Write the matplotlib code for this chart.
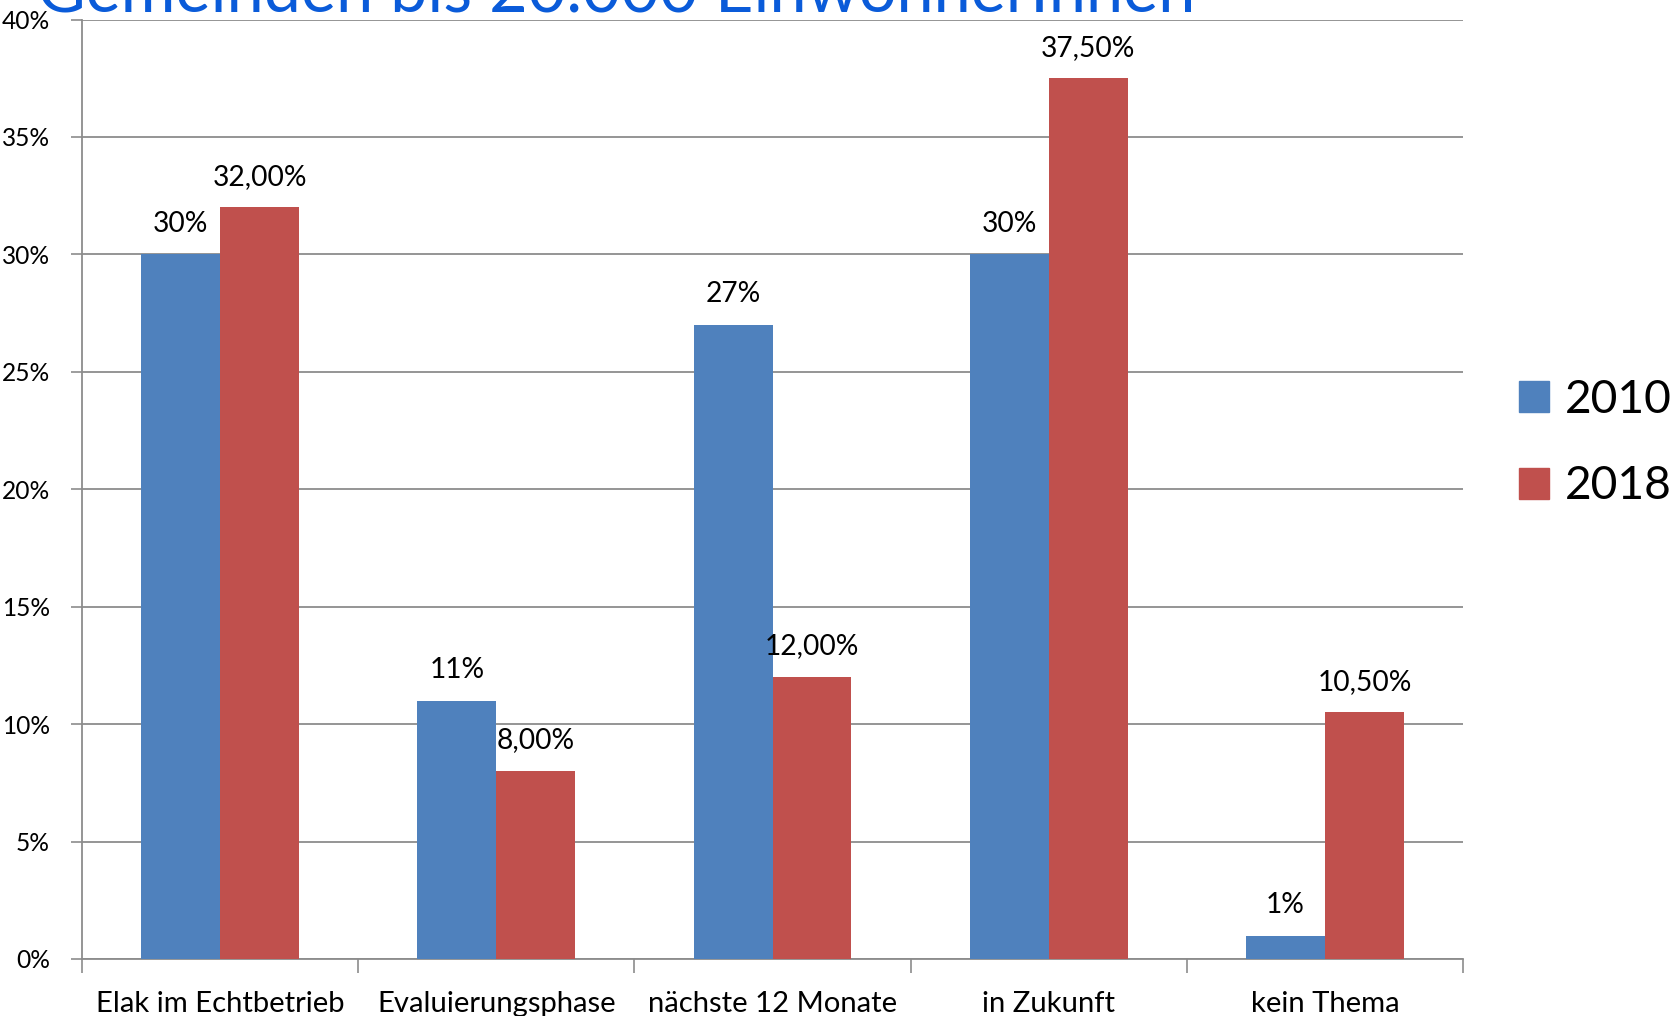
import matplotlib
matplotlib.use("Agg")
import matplotlib.pyplot as plt
import numpy as np
from matplotlib.patches import Patch

categories = ["Elak im Echtbetrieb", "Evaluierungsphase", "nächste 12 Monate", "in Zukunft", "kein Thema"]
series_names = ["2010", "2018"]
values_2010 = [30, 11, 27, 30, 1]
values_2018 = [32.0, 8.0, 12.0, 37.5, 10.5]
labels_2010 = ["30%", "11%", "27%", "30%", "1%"]
labels_2018 = ["32,00%", "8,00%", "12,00%", "37,50%", "10,50%"]
yticks = [0, 5, 10, 15, 20, 25, 30, 35, 40]
title = "Gemeinden bis 20.000 EinwohnerInnen"

FAM = ['Lato', 'DejaVu Sans']
plt.rcParams['font.family'] = FAM

W, H = 1675, 1016
fig = plt.figure(figsize=(W/100, H/100), dpi=100)
renderer = fig.canvas.get_renderer()

def fit(text, target_px, base=20):
    t = fig.text(0, 0, text, fontsize=base)
    w = t.get_window_extent(renderer).width
    t.remove()
    return base * target_px / w

fs_title = fit(title, 1162)
fs_cat = fit("Elak im Echtbetrieb", 250)
fs_dl = fit("32,00%", 94)
fs_y = fit("35%", 48)
fs_leg = fit("2010", 107)

ax = fig.add_axes([82/W, 1 - 959/H, (1463-82)/W, (959-19.5)/H])

c1 = "#4F81BD"
c2 = "#C0504D"
x = np.arange(len(categories))
bw = 0.286
ax.bar(x - bw/2, values_2010, bw, color=c1, zorder=3)
ax.bar(x + bw/2, values_2018, bw, color=c2, zorder=3)

for xi, v, l in zip(x, values_2010, labels_2010):
    ax.text(xi - bw/2, v + 0.75, l, ha='center', va='bottom', fontsize=fs_dl, zorder=4)
for xi, v, l in zip(x, values_2018, labels_2018):
    ax.text(xi + bw/2, v + 0.75, l, ha='center', va='bottom', fontsize=fs_dl, zorder=4)

ax.set_xlim(-0.5, len(categories) - 0.5)
ax.set_ylim(0, 40)
ax.set_yticks(yticks)
ax.set_yticklabels([f"{t}%" for t in yticks], fontsize=fs_y)
ax.yaxis.grid(True, color="#8C8C8C", linewidth=1.3, zorder=0)
ax.set_axisbelow(True)

ax.set_xticks(np.arange(-0.5, len(categories)), minor=False)
ax.set_xticklabels([""] * (len(categories) + 1))
ax.set_xticks(x, minor=True)
ax.set_xticklabels(categories, minor=True, fontsize=fs_cat)
ax.tick_params(axis='x', which='major', length=10, width=1.2, color="#8C8C8C", direction='out')
ax.tick_params(axis='x', which='minor', length=0, pad=23)
ax.tick_params(axis='y', length=8, width=1.2, color="#8C8C8C", pad=15)

for s in ['top', 'right']:
    ax.spines[s].set_visible(False)
for s in ['left', 'bottom']:
    ax.spines[s].set_color("#8C8C8C")
    ax.spines[s].set_linewidth(1.3)

handles = [Patch(color=c1, label=series_names[0]), Patch(color=c2, label=series_names[1])]
fig.legend(handles=handles, loc='center left', bbox_to_anchor=(1519/W, 1 - 443/H),
           frameon=False, fontsize=fs_leg, handlelength=0.65, handleheight=0.65,
           handletextpad=0.35, labelspacing=0.97, borderpad=0, borderaxespad=0)

fig.text(37/W, 1 - 11/H, title, ha='left', va='baseline', fontsize=fs_title, color="#0A5BD9")

fig.savefig("out.png", dpi=100)
